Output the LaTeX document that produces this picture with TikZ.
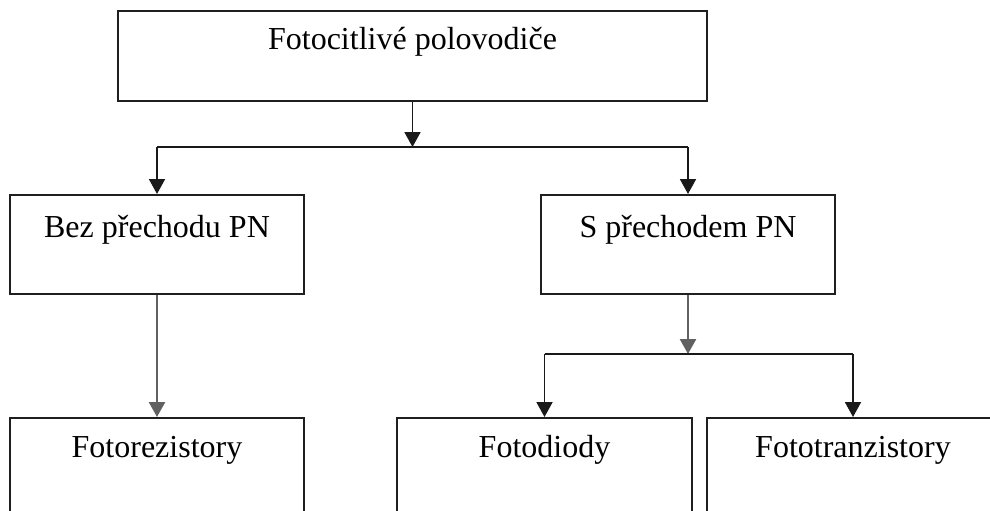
\documentclass[tikz,border=0pt]{standalone}
\usepackage{fontspec}
\setmainfont{Liberation Serif}
\usetikzlibrary{arrows.meta}
\begin{document}
\begin{tikzpicture}[x=1pt,y=-1pt,
  box/.style={draw=black!88, line width=2pt, inner sep=0pt, anchor=base,
    font=\fontsize{32}{38}\selectfont, text height=#1},
  box/.default=42pt,
  link/.style={draw=black!90, line width=1.9pt},
  arr/.style={link, -{Triangle[length=15pt,width=16pt]}},
  grayarr/.style={arr, draw=black!62, line width=2.5pt}
]
\useasboundingbox (0,0) rectangle (990,511);
\clip (0,0) rectangle (990,511);

% category boxes
\node[box=39pt, text depth=51pt, minimum width=589pt] (root) at (412.5,50) {Fotocitlivé polovodiče};
\node[box, text depth=57pt, minimum width=294pt] (bez) at (157,237) {Bez přechodu PN};
\node[box, text depth=57pt, minimum width=294pt] (spn) at (688,237) {S přechodem PN};
\node[box=39pt, text depth=110pt, minimum width=294pt] (rez) at (157,457) {Fotorezistory};
\node[box=39pt, text depth=110pt, minimum width=295pt] (dio) at (544.5,457) {Fotodiody};
\node[box=39pt, text depth=110pt, minimum width=292pt] (tra) at (853,457) {Fototranzistory};

% junction points of the branching lines
\coordinate (j1) at (412.5,147);
\coordinate (j2) at (688,354);

% first level split
\draw[arr] (root.south) -- (j1);
\draw[link] (bez.north |- j1) -- (spn.north |- j1);
\draw[arr] (bez.north |- j1) -- (bez.north);
\draw[arr] (spn.north |- j1) -- (spn.north);

% second level
\draw[grayarr] (bez.south) -- (rez.north);
\draw[grayarr] (spn.south) -- (j2);
\draw[link] (dio.north |- j2) -- (tra.north |- j2);
\draw[arr] (dio.north |- j2) -- (dio.north);
\draw[arr] (tra.north |- j2) -- (tra.north);
\end{tikzpicture}
\end{document}
